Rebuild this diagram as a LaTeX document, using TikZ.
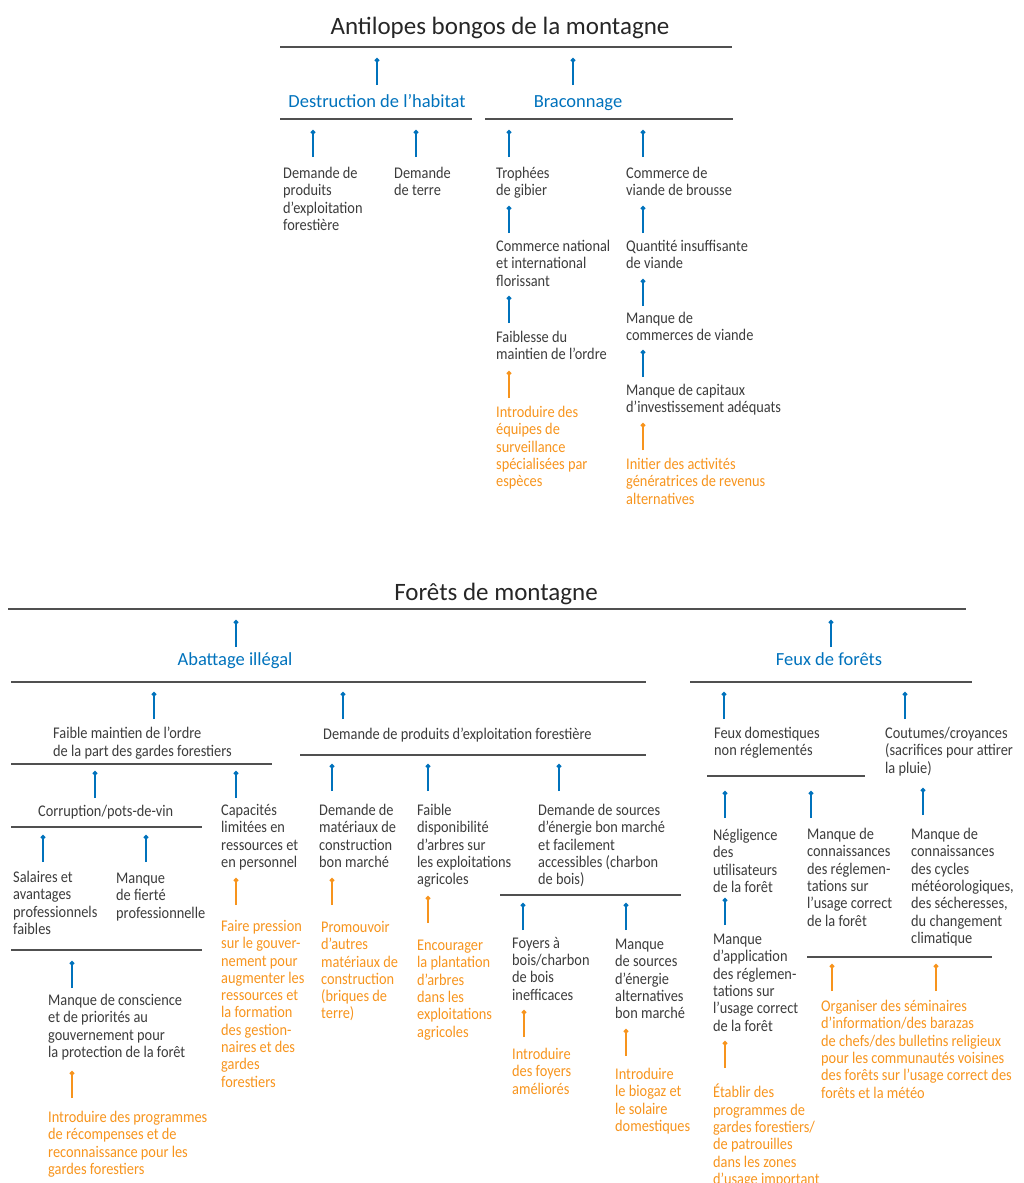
\documentclass[tikz,border=0pt]{standalone}
\usepackage{fontspec}
\setmainfont{Carlito}
\newfontfamily\narrowfont[FakeStretch=0.88]{Carlito}
\usepackage{tikz}
\definecolor{bongoBlue}{RGB}{0,114,188}
\definecolor{bongoOrange}{RGB}{247,148,29}
\definecolor{bongoText}{RGB}{60,60,60}
\definecolor{bongoRule}{RGB}{80,80,80}
\usetikzlibrary{arrows.meta, positioning}

\begin{document}
\begin{tikzpicture}[x=1pt, y=1pt,
        every node/.style={inner sep=0pt},
        txt/.style={anchor=north west, align=left, text=bongoText,
            font=\narrowfont\fontsize{16.3}{17.3}\selectfont, execute at begin node=\strut},
        act/.style={txt, text=bongoOrange},
        head/.style={anchor=base, text=bongoBlue, font=\fontsize{18.5}{22}\selectfont},
        maintitle/.style={anchor=base, text=black!85, font=\fontsize{25}{30}\selectfont},
        rule/.style={draw=bongoRule, line width=1.4pt},
        upb/.style={draw=bongoBlue, line width=1.8pt, -{Circle[length=4.5pt,width=4.5pt]}},
        upo/.style={upb, draw=bongoOrange}]
        \useasboundingbox (0,0) rectangle (1024,-1183);

        % Antilopes bongos
        \node[maintitle] (bongo) at (500,-34) {Antilopes bongos de la montagne};
        \draw[rule] (280,-47) -- (732,-47);
        \node[head] (habitat) at (377,-107) {Destruction de l’habitat};
        \node[head] (braco) at (578,-107) {Braconnage};
        \draw[upb] ([yshift=22]habitat.base) -- +(0,27);
        \draw[upb] ([shift={(-5,22)}]braco.base) -- +(0,27);
        \draw[rule] (280,-119) -- (472,-119);
        \draw[rule] (485,-119) -- (733,-119);

        \node[txt] (bois) at (283,-167) {Demande de\\produits\\d’exploitation\\forestière};
        \node[txt] (terre) at (394,-167) {Demande\\de terre};
        \node[txt] (trophee) at (496,-167) {Trophées\\de gibier};
        \node[txt] (brousse) at (626,-167) {Commerce de\\viande de brousse};
        \draw[upb] ([shift={(30,10)}]bois.north west) -- +(0,27);
        \draw[upb] ([shift={(22,10)}]terre.north west) -- +(0,27);
        \draw[upb] ([shift={(13,10)}]trophee.north west) -- +(0,27);
        \draw[upb] ([shift={(17,10)}]brousse.north west) -- +(0,27);

        \node[txt] (commerce) at (496,-240) {Commerce national\\et international\\florissant};
        \node[txt] (ordre) at (496,-331) {Faiblesse du\\maintien de l’ordre};
        \node[act] (equipes) at (496,-406) {Introduire des\\équipes de\\surveillance\\spécialisées par\\espèces};
        \draw[upb] ([shift={(13,7)}]commerce.north west) -- +(0,27);
        \draw[upb] ([shift={(13,8)}]ordre.north west) -- +(0,27);
        \draw[upo] ([shift={(13,8)}]equipes.north west) -- +(0,27);

        \node[txt] (quantite) at (626,-240) {Quantité insuffisante\\de viande};
        \node[txt] (viande) at (626,-312) {Manque de\\commerces de viande};
        \node[txt] (capitaux) at (626,-384) {Manque de capitaux\\d’investissement adéquats};
        \node[act] (revenus) at (626,-458) {Initier des activités\\génératrices de revenus\\alternatives};
        \draw[upb] ([shift={(17,7)}]quantite.north west) -- +(0,27);
        \draw[upb] ([shift={(17,6)}]viande.north west) -- +(0,27);
        \draw[upb] ([shift={(17,7)}]capitaux.north west) -- +(0,27);
        \draw[upo] ([shift={(17,8)}]revenus.north west) -- +(0,27);

        % Forets de montagne
        \node[maintitle] (foret) at (496,-600) {Forêts de montagne};
        \draw[rule] (8,-609) -- (966,-609);
        \node[head] (abattage) at (235,-665) {Abattage illégal};
        \node[head] (feux) at (829,-665) {Feux de forêts};
        \draw[upb] ([shift={(1,18)}]abattage.base) -- +(0,27);
        \draw[upb] ([shift={(2,18)}]feux.base) -- +(0,27);
        \draw[rule] (11,-682) -- (646,-682);
        \draw[rule] (690,-682) -- (972,-682);

        \node[txt] (gardes) at (53,-727) {Faible maintien de l’ordre\\de la part des gardes forestiers};
        \node[txt] (produits) at (323,-727) {Demande de produits d’exploitation forestière};
        \node[txt] (domest) at (714,-727) {Feux domestiques\\non réglementés};
        \node[txt] (coutumes) at (885,-727) {Coutumes/croyances\\(sacrifices pour attirer\\la pluie)};
        \draw[upb] ([shift={(101,8)}]gardes.north west) -- +(0,27);
        \draw[upb] ([shift={(20,8)}]produits.north west) -- +(0,27);
        \draw[upb] ([shift={(10,8)}]domest.north west) -- +(0,27);
        \draw[upb] ([shift={(20,8)}]coutumes.north west) -- +(0,27);
        \draw[rule] (11,-764) -- (272,-764);
        \draw[rule] (300,-755) -- (646,-755);
        \draw[rule] (707,-776) -- (865,-776);

        \node[txt] (corrupt) at (38,-804) {Corruption/pots-de-vin};
        \node[txt] (capacite) at (221,-804) {Capacités\\limitées en\\ressources et\\en personnel};
        \draw[upb] ([shift={(57,6)}]corrupt.north west) -- +(0,27);
        \draw[upb] ([shift={(15,6)}]capacite.north west) -- +(0,27);
        \draw[rule] (11,-827) -- (202,-827);

        \node[txt] (salaires) at (13,-871) {Salaires et\\avantages\\professionnels\\faibles};
        \node[txt] (fierte) at (116,-873) {Manque\\de fierté\\professionnelle};
        \draw[upb] ([shift={(30,9)}]salaires.north west) -- +(0,27);
        \draw[upb] ([shift={(30,11)}]fierte.north west) -- +(0,27);
        \draw[rule] (11,-950) -- (202,-950);

        \node[txt] (conscience) at (48,-994) {Manque de conscience\\et de priorités au\\gouvernement pour\\la protection de la forêt};
        \node[act] (recomp) at (48,-1111) {Introduire des programmes\\de récompenses et de\\reconnaissance pour les\\gardes forestiers};
        \draw[upb] ([shift={(24,6)}]conscience.north west) -- +(0,27);
        \draw[upo] ([shift={(24,13)}]recomp.north west) -- +(0,27);
        \node[act] (pression) at (221,-920) {Faire pression\\sur le gouver-\\nement pour\\augmenter les\\ressources et\\la formation\\des gestion-\\naires et des\\gardes\\forestiers};
        \draw[upo] ([shift={(15,15)}]pression.north west) -- +(0,27);

        \node[txt] (materiaux) at (319,-804) {Demande de\\matériaux de\\construction\\bon marché};
        \node[txt] (dispo) at (417,-804) {Faible\\disponibilité\\d’arbres sur\\les exploitations\\agricoles};
        \node[txt] (energie) at (538,-804) {Demande de sources\\d’énergie bon marché\\et facilement\\accessibles (charbon\\de bois)};
        \draw[upb] ([shift={(13,13)}]materiaux.north west) -- +(0,27);
        \draw[upb] ([shift={(11,13)}]dispo.north west) -- +(0,27);
        \draw[upb] ([shift={(21,13)}]energie.north west) -- +(0,27);
        \draw[rule] (500,-895) -- (681,-895);

        \node[act] (briques) at (321,-921) {Promouvoir\\d’autres\\matériaux de\\construction\\(briques de\\terre)};
        \node[act] (plantation) at (417,-940) {Encourager\\la plantation\\d’arbres\\dans les\\exploitations\\agricoles};
        \draw[upo] ([shift={(11,16)}]briques.north west) -- +(0,27);
        \draw[upo] ([shift={(11,17)}]plantation.north west) -- +(0,27);

        \node[txt] (foyers) at (512,-937) {Foyers à\\bois/charbon\\de bois\\inefficaces};
        \node[txt] (sources) at (615,-939) {Manque\\de sources\\d’énergie\\alternatives\\bon marché};
        \draw[upb] ([shift={(11,7)}]foyers.north west) -- +(0,27);
        \draw[upb] ([shift={(11,9)}]sources.north west) -- +(0,27);
        \node[act] (ameliores) at (512,-1048) {Introduire\\des foyers\\améliorés};
        \node[act] (biogaz) at (615,-1068) {Introduire\\le biogaz et\\le solaire\\domestiques};
        \draw[upo] ([shift={(12,11)}]ameliores.north west) -- +(0,27);
        \draw[upo] ([shift={(11,12)}]biogaz.north west) -- +(0,27);

        \node[txt] (negligence) at (713,-829) {Négligence\\des\\utilisateurs\\de la forêt};
        \node[txt] (regles) at (807,-828) {Manque de\\connaissances\\des réglemen-\\tations sur\\l’usage correct\\de la forêt};
        \node[txt] (cycles) at (911,-828) {Manque de\\connaissances\\des cycles\\météorologiques,\\des sécheresses,\\du changement\\climatique};
        \draw[upb] ([shift={(12,11)}]negligence.north west) -- +(0,27);
        \draw[upb] ([shift={(4,10)}]regles.north west) -- +(0,27);
        \draw[upb] ([shift={(12,13)}]cycles.north west) -- +(0,27);

        \node[txt] (application) at (713,-934) {Manque\\d’application\\des réglemen-\\tations sur\\l’usage correct\\de la forêt};
        \node[act] (patrouilles) at (713,-1084) {Établir des\\programmes de\\gardes forestiers/\\de patrouilles\\dans les zones\\d’usage important};
        \draw[upb] ([shift={(12,9)}]application.north west) -- +(0,27);
        \draw[upo] ([shift={(12,16)}]patrouilles.north west) -- +(0,27);

        \draw[rule] (807,-957) -- (992,-957);
        \node[act] (seminaires) at (821,-1000) {Organiser des séminaires\\d’information/des barazas\\de chefs/des bulletins religieux\\pour les communautés voisines\\des forêts sur l’usage correct des\\forêts et la météo};
        \draw[upo] ([shift={(11,9)}]seminaires.north west) -- +(0,27);
        \draw[upo] ([shift={(115,9)}]seminaires.north west) -- +(0,27);
    \end{tikzpicture}
\end{document}
